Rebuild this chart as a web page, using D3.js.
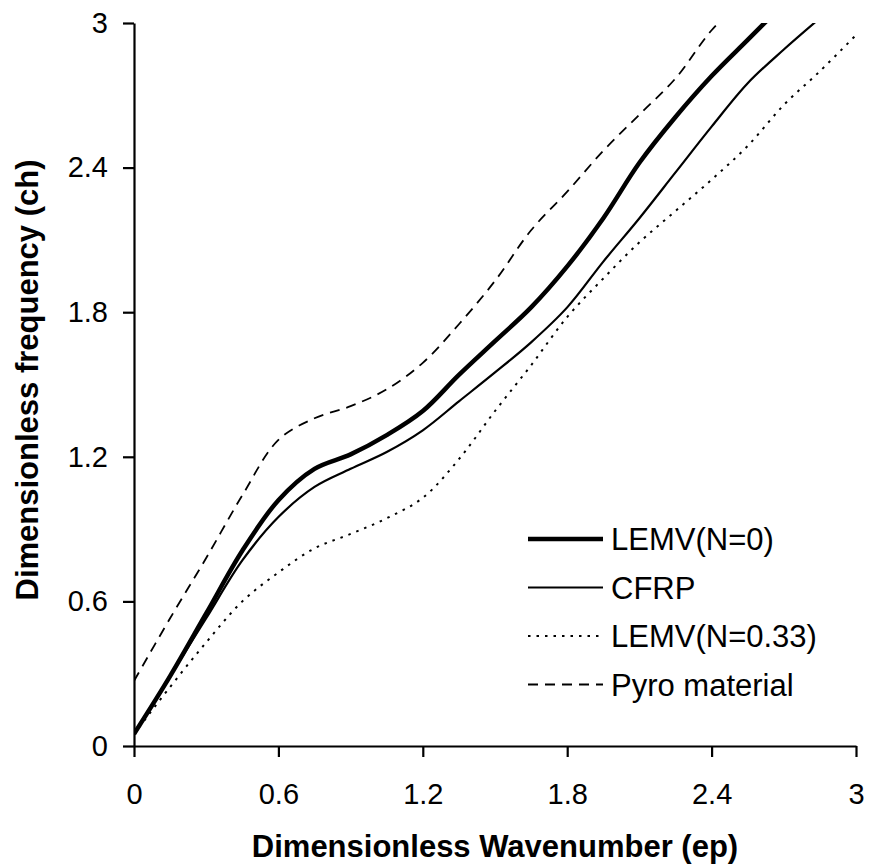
<!DOCTYPE html>
<html>
<head>
<meta charset="utf-8">
<script src="https://cdn.jsdelivr.net/npm/d3@7"></script>
<style>
  body { margin: 0; background: #fff; overflow: hidden; }
  svg { display: block; }
  text { font-family: "Liberation Sans", Arial, sans-serif; fill: #000; }
  .title { font-size: 31px; font-weight: bold; }
  .legend text { font-size: 31px; }
</style>
</head>
<body>
<svg width="869" height="868"></svg>
<script>
const xs = [0, 0.15, 0.3, 0.45, 0.6, 0.75, 0.9, 1.05, 1.2, 1.35, 1.5, 1.65, 1.8, 1.95, 2.1, 2.25, 2.4, 2.55, 2.7, 2.85, 3.0];

const lemv0 = [0.05, 0.29, 0.55, 0.81, 1.02, 1.15, 1.21, 1.29, 1.39, 1.54, 1.68, 1.82, 1.99, 2.19, 2.42, 2.61, 2.78, 2.93, 3.08];
const cfrp = [0.05, 0.29, 0.53, 0.77, 0.95, 1.075, 1.15, 1.22, 1.31, 1.43, 1.55, 1.675, 1.82, 2.01, 2.19, 2.38, 2.57, 2.75, 2.89, 3.02];
const lemv033 = [0.05, 0.245, 0.43, 0.6, 0.72, 0.82, 0.88, 0.945, 1.03, 1.19, 1.39, 1.58, 1.78, 1.94, 2.09, 2.22, 2.35, 2.49, 2.66, 2.80, 2.95];
const pyro = [0.27, 0.53, 0.78, 1.04, 1.27, 1.36, 1.41, 1.48, 1.59, 1.75, 1.93, 2.14, 2.30, 2.47, 2.62, 2.77, 2.97, 3.12];

const ticks = [0, 0.6, 1.2, 1.8, 2.4, 3];

const seriesNames = ["LEMV(N=0)", "CFRP", "LEMV(N=0.33)", "Pyro material"];
const seriesValues = [lemv0, cfrp, lemv033, pyro];

const styles = [
  { width: 4.5, dash: null },
  { width: 2.2, dash: null },
  { width: 2, dash: "2.5,6" },
  { width: 1.8, dash: "10,7" }
];

const svg = d3.select('svg');
const margin = { top: 23, right: 13, bottom: 122, left: 134 };
const width = +svg.attr('width');
const height = +svg.attr('height');
const innerWidth = width - margin.left - margin.right;
const innerHeight = height - margin.top - margin.bottom;

const x = d3.scaleLinear().domain([0, 3]).range([0, innerWidth]);
const y = d3.scaleLinear().domain([0, 3]).range([innerHeight, 0]);

const g = svg.append('g').attr('transform', `translate(${margin.left},${margin.top})`);

g.append('clipPath').attr('id', 'plot')
  .append('rect').attr('x', 0).attr('y', 0)
  .attr('width', innerWidth).attr('height', innerHeight);

const line = d3.line()
  .x(d => x(d[0]))
  .y(d => y(d[1]))
  .curve(d3.curveCatmullRom);

const lines = g.append('g').attr('clip-path', 'url(#plot)');
seriesValues.forEach((vals, i) => {
  const pts = vals.map((v, j) => [xs[j], v]);
  lines.append('path')
    .datum(pts)
    .attr('d', line)
    .attr('fill', 'none')
    .attr('stroke', '#000')
    .attr('stroke-width', styles[i].width)
    .attr('stroke-dasharray', styles[i].dash);
});

const xAxis = d3.axisBottom(x).tickValues(ticks).tickFormat(d3.format('')).tickSize(11).tickSizeOuter(0).tickPadding(26);
const yAxis = d3.axisLeft(y).tickValues(ticks).tickFormat(d3.format('')).tickSize(11).tickSizeOuter(0).tickPadding(15);

const xag = g.append('g').attr('transform', `translate(0,${innerHeight})`).call(xAxis);
const yag = g.append('g').call(yAxis);

[xag, yag].forEach(a => {
  a.attr('font-family', '"Liberation Sans", Arial, sans-serif').attr('font-size', 29);
  a.select('.domain').attr('stroke-width', 2.2);
  a.selectAll('.tick line').attr('stroke-width', 2.2);
});

svg.append('text')
  .attr('class', 'title')
  .attr('x', margin.left + innerWidth / 2)
  .attr('y', 857)
  .attr('text-anchor', 'middle')
  .text('Dimensionless Wavenumber (ep)');

svg.append('text')
  .attr('class', 'title')
  .attr('transform', `translate(38,380) rotate(-90)`)
  .attr('text-anchor', 'middle')
  .text('Dimensionless frequency (ch)');

const legend = svg.append('g').attr('class', 'legend');
seriesNames.forEach((name, i) => {
  const ly = 539 + i * 48.5;
  legend.append('line')
    .attr('x1', 528).attr('x2', 603)
    .attr('y1', ly).attr('y2', ly)
    .attr('stroke', '#000')
    .attr('stroke-width', styles[i].width)
    .attr('stroke-dasharray', styles[i].dash);
  legend.append('text')
    .attr('x', 611).attr('y', ly + 11)
    .text(name);
});
</script>
</body>
</html>
